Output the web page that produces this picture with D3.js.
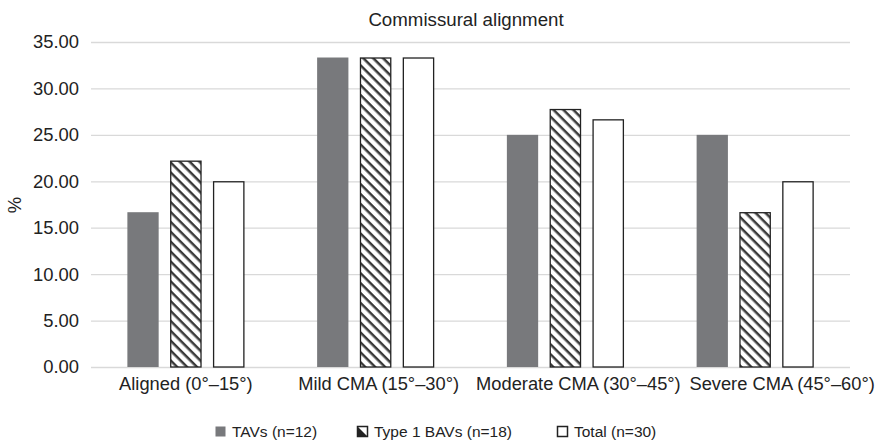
<!DOCTYPE html>
<html><head><meta charset="utf-8">
<script src="https://cdn.jsdelivr.net/npm/d3@7"></script>
<style>body{margin:0;background:#fff}svg{display:block;font-family:"Liberation Sans",Arial,Helvetica,sans-serif}</style>
</head><body><svg id="c" width="875" height="442"></svg>
<script>
const categories = ["Aligned (0°–15°)", "Mild CMA (15°–30°)", "Moderate CMA (30°–45°)", "Severe CMA (45°–60°)"];
const seriesNames = ["TAVs (n=12)", "Type 1 BAVs (n=18)", "Total (n=30)"];
const tavs = [16.67, 33.33, 25.00, 25.00];
const bavs = [22.22, 33.33, 27.78, 16.67];
const total = [20.00, 33.33, 26.67, 20.00];
const yTicks = [0, 5, 10, 15, 20, 25, 30, 35];
const title = "Commissural alignment";
const yLabel = "%";

const svg = d3.select("#c");
const m = {l: 91, r: 850, t: 42, b: 367};
const labelShift = [0, 3, 13, 27];
const x = d3.scaleBand().domain(categories).range([m.l, m.r]);
const xs = d3.scaleBand().domain(seriesNames).range([0, 117]).paddingInner(0.27);
const y = d3.scaleLinear().domain([0, 35]).range([m.b, m.t]);

const defs = svg.append("defs");
const pat = defs.append("pattern").attr("id", "hatch").attr("patternUnits", "userSpaceOnUse")
  .attr("width", 7).attr("height", 7).attr("patternTransform", "rotate(45)");
pat.append("rect").attr("width", 7).attr("height", 7).attr("fill", "#fff");
pat.append("line").attr("x1", 0).attr("y1", 0).attr("x2", 7).attr("y2", 0).attr("stroke", "#3a3a3a").attr("stroke-width", 5);

// gridlines
svg.append("g").selectAll("line").data(yTicks).join("line")
  .attr("x1", m.l).attr("x2", m.r).attr("y1", d => y(d) + 0.5).attr("y2", d => y(d) + 0.5)
  .attr("stroke", "#d9d9d9").attr("stroke-width", 1.3);

// y axis labels
const ya = svg.append("g").attr("transform", `translate(${m.l - 9},0)`)
  .call(d3.axisLeft(y).tickValues(yTicks).tickSize(0).tickFormat(d3.format(".2f")));
ya.select(".domain").remove();
ya.selectAll("text").attr("font-size", 18.4).attr("fill", "#222").attr("font-family", "Liberation Sans, Arial, sans-serif");

// x axis labels
const xa = svg.append("g").attr("transform", `translate(0,${m.b + 7})`)
  .call(d3.axisBottom(x).tickSize(0));
xa.select(".domain").remove();
xa.selectAll("text").attr("font-size", 18.3).attr("fill", "#222").attr("font-family", "Liberation Sans, Arial, sans-serif")
  .attr("dx", (d, i) => labelShift[i]);

const fills = ["#78797c", "url(#hatch)", "#fff"];
const strokes = ["none", "#222", "#222"];
const data = [tavs, bavs, total];
data.forEach((vals, si) => {
  svg.append("g").selectAll("rect").data(vals).join("rect")
    .attr("x", (d, i) => x(categories[i]) + x.bandwidth() / 2 - 58.5 + xs(seriesNames[si]) + (si ? 0.5 : 0))
    .attr("width", xs.bandwidth() - (si ? 1 : 0))
    .attr("y", d => y(d) + (si ? 0.5 : 0))
    .attr("height", d => y(0) - y(d) - (si ? 0.5 : 0))
    .attr("fill", fills[si]).attr("stroke", strokes[si]).attr("stroke-width", 1.3);
});

// title
svg.append("text").attr("x", 466).attr("y", 26).attr("text-anchor", "middle")
  .attr("font-size", 18.7).attr("fill", "#222").text(title);
// y label
svg.append("text").attr("transform", "translate(21,205) rotate(-90)").attr("text-anchor", "middle")
  .attr("font-size", 18.5).attr("fill", "#222").text(yLabel);

// legend
const legX = [215, 357, 557];
const lg = svg.append("g");
seriesNames.forEach((s, i) => {
  lg.append("rect").attr("x", legX[i] + 0.5).attr("y", 426.5).attr("width", 10).attr("height", 10)
    .attr("fill", i === 0 ? "#78797c" : "#fff").attr("stroke", i === 0 ? "none" : "#222").attr("stroke-width", 1.5);
  if (i === 1) {
    lg.append("path").attr("d", `M${legX[i] + 0.5},${426.5} L${legX[i] + 10.5},${436.5} L${legX[i] + 0.5},${436.5} Z`).attr("fill", "#222");
  }
  lg.append("text").attr("x", legX[i] + 17).attr("y", 437).attr("font-size", 15.5).attr("fill", "#222").text(s);
});
</script></body></html>
